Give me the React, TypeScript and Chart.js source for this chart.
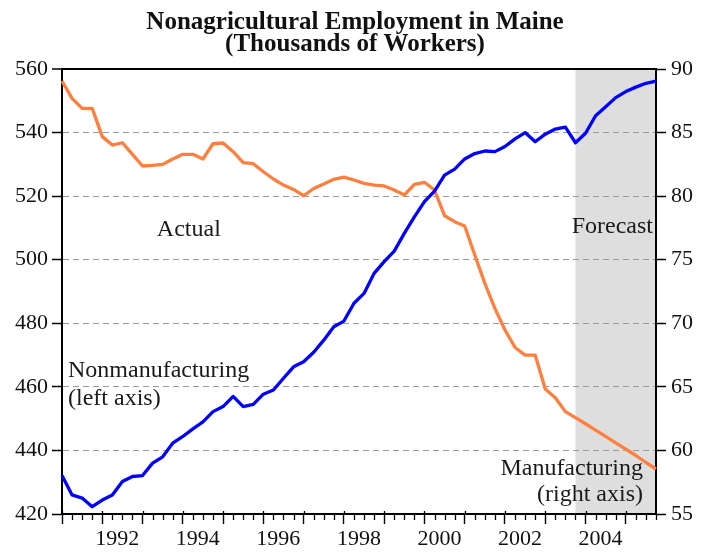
import { useEffect, useRef } from 'react';
import { Chart, registerables } from 'chart.js';

Chart.register(...registerables);

// Quarterly categories, 1991Q1 .. 2005Q4
const quarters = [
  '1991Q1','1991Q2','1991Q3','1991Q4','1992Q1','1992Q2','1992Q3','1992Q4',
  '1993Q1','1993Q2','1993Q3','1993Q4','1994Q1','1994Q2','1994Q3','1994Q4',
  '1995Q1','1995Q2','1995Q3','1995Q4','1996Q1','1996Q2','1996Q3','1996Q4',
  '1997Q1','1997Q2','1997Q3','1997Q4','1998Q1','1998Q2','1998Q3','1998Q4',
  '1999Q1','1999Q2','1999Q3','1999Q4','2000Q1','2000Q2','2000Q3','2000Q4',
  '2001Q1','2001Q2','2001Q3','2001Q4','2002Q1','2002Q2','2002Q3','2002Q4',
  '2003Q1','2003Q2','2003Q3','2003Q4','2004Q1','2004Q2','2004Q3','2004Q4',
  '2005Q1','2005Q2','2005Q3','2005Q4',
];

// Nonmanufacturing employment (left axis, thousands)
const nonmanufacturing = [
  432.1, 426.0, 425.0, 422.3, 424.4, 426.0, 430.2, 431.8,
  432.1, 436.0, 438.0, 442.3, 444.4, 446.8, 449.0, 452.2,
  453.8, 457.0, 453.8, 454.5, 457.7, 459.0, 462.7, 466.3,
  467.9, 470.9, 474.7, 478.9, 480.7, 486.3, 489.4, 495.7,
  499.4, 502.7, 508.3, 513.5, 518.3, 521.6, 526.6, 528.5,
  531.7, 533.4, 534.2, 534.0, 535.6, 538.0, 540.0, 537.1,
  539.5, 541.1, 541.7, 536.8, 539.8, 545.3, 548.1, 551.0,
  552.9, 554.3, 555.5, 556.2,
];

// Manufacturing employment (right axis, thousands)
const manufacturing = [
  89.06, 87.69, 86.9, 86.9, 84.68, 84.02, 84.2, 83.29,
  82.37, 82.42, 82.5, 82.92, 83.29, 83.29, 82.92, 84.12,
  84.18, 83.5, 82.63, 82.55, 81.92, 81.35, 80.87, 80.53,
  80.03, 80.6, 80.95, 81.32, 81.5, 81.27, 81.0, 80.87,
  80.8, 80.48, 80.09, 80.93, 81.09, 80.48, 78.46, 77.99,
  77.65, 75.37, 73.14, 71.17, 69.47, 68.1, 67.5, 67.5,
  64.83, 64.15, 63.05, 62.58, 62.1, 61.6, 61.1, 60.6,
  60.1, 59.6, 59.05, 58.54,
];

const yearLabels = ['1992', '1994', '1996', '1998', '2000', '2002', '2004'];
const leftRange = [420, 560];
const rightRange = [55, 90];
const forecastStart = '2003Q4';
const titleLines = ['Nonagricultural Employment in Maine', '(Thousands of Workers)'];

const SERIF = '"Liberation Serif", "Times New Roman", serif';
const BLUE = '#0000ff';
const ORANGE = '#ff7f3f';

const isYearStart = (i: number) => quarters[i] !== undefined && quarters[i].endsWith('Q1');

export default function App() {
  const canvasRef = useRef<HTMLCanvasElement | null>(null);

  useEffect(() => {
    const canvas = canvasRef.current;
    if (!canvas) return;

    const backgroundPlugin = {
      id: 'forecastShade',
      beforeDraw(chart: any) {
        const { ctx, chartArea, scales } = chart;
        const x0 = scales.x.getPixelForValue(quarters.indexOf(forecastStart));
        ctx.save();
        ctx.fillStyle = '#dedede';
        ctx.fillRect(x0, chartArea.top, chartArea.right - x0, chartArea.bottom - chartArea.top);
        ctx.restore();
      },
    };

    // quarterly minor tick marks, positioned by the x scale
    const minorTickPlugin = {
      id: 'minorTicks',
      afterDraw(chart: any) {
        const { ctx, chartArea, scales } = chart;
        const xs = scales.x;
        const b = chartArea.bottom;
        ctx.save();
        ctx.strokeStyle = '#000';
        ctx.lineWidth = 1.3;
        ctx.beginPath();
        quarters.forEach((_q, i) => {
          const px = Math.round(xs.getPixelForValue(i)) + 0.5;
          if (isYearStart(i)) {
            ctx.moveTo(px, b - 3);
            ctx.lineTo(px, b);
          } else {
            ctx.moveTo(px, b);
            ctx.lineTo(px, b + 6);
          }
        });
        ctx.stroke();
        ctx.restore();
      },
    };

    const textPlugin = {
      id: 'annotations',
      afterDatasetsDraw(chart: any) {
        const { ctx, chartArea, scales } = chart;
        const y = scales.y;
        const x = scales.x;
        ctx.save();
        ctx.fillStyle = '#1a1a1a';
        ctx.font = `24px ${SERIF}`;
        ctx.textBaseline = 'alphabetic';
        ctx.textAlign = 'center';
        ctx.fillText('Actual', x.getPixelForValue(12.6), y.getPixelForValue(507.5));
        ctx.textAlign = 'right';
        ctx.fillText('Forecast', chartArea.right - 3, y.getPixelForValue(508.4));
        ctx.textAlign = 'left';
        ctx.fillText('Nonmanufacturing', chartArea.left + 6, y.getPixelForValue(463.0));
        ctx.fillText('(left axis)', chartArea.left + 6, y.getPixelForValue(454.3));
        ctx.textAlign = 'right';
        ctx.fillText('Manufacturing', chartArea.right - 13, y.getPixelForValue(432.3));
        ctx.fillText('(right axis)', chartArea.right - 13, y.getPixelForValue(424.2));
        ctx.restore();
      },
    };

    const chart = new Chart(canvas, {
      type: 'line',
      data: {
        labels: quarters,
        datasets: [
          {
            label: 'Nonmanufacturing',
            data: nonmanufacturing,
            borderColor: BLUE,
            borderWidth: 3.3,
            pointRadius: 0,
            tension: 0,
            borderJoinStyle: 'round',
            xAxisID: 'x',
            yAxisID: 'y',
          },
          {
            label: 'Manufacturing',
            data: manufacturing,
            borderColor: ORANGE,
            borderWidth: 3.3,
            pointRadius: 0,
            tension: 0,
            borderJoinStyle: 'round',
            xAxisID: 'x',
            yAxisID: 'y1',
          },
        ],
      },
      options: {
        responsive: true,
        maintainAspectRatio: false,
        animation: false,
        layout: { padding: 0 },
        plugins: {
          legend: { display: false },
          tooltip: { enabled: false },
          title: {
            display: true,
            text: titleLines,
            color: '#111',
            font: { family: SERIF, size: 25, weight: 'bold', lineHeight: 0.88 },
            padding: { top: 12, bottom: 13 },
          },
        },
        scales: {
          x: {
            type: 'category',
            position: 'bottom',
            grid: {
              drawOnChartArea: false,
              drawTicks: true,
              tickLength: 10,
              tickColor: (c: any) => (isYearStart(c.index) ? '#000' : 'rgba(0,0,0,0)'),
              tickWidth: 1.4,
            },
            border: { display: true, color: '#000', width: 2 },
            ticks: {
              autoSkip: false,
              maxRotation: 0,
              minRotation: 0,
              labelOffset: 15,
              padding: 2,
              color: '#111',
              font: { family: SERIF, size: 22 },
              callback: (_v: any, i: number) => {
                if (!isYearStart(i)) return '';
                const yr = quarters[i].slice(0, 4);
                return yearLabels.includes(yr) ? yr : '';
              },
            },
            afterFit: (s: any) => { s.height = 38; },
          },
          y: {
            position: 'left',
            min: leftRange[0],
            max: leftRange[1],
            ticks: {
              stepSize: 20,
              padding: 4,
              color: '#111',
              font: { family: SERIF, size: 22 },
            },
            grid: {
              drawOnChartArea: true,
              color: (c: any) => {
                const v = c.tick ? c.tick.value : null;
                if (v === leftRange[1]) return '#000';
                if (v === leftRange[0]) return 'rgba(0,0,0,0)';
                return '#9a9a9a';
              },
              lineWidth: (c: any) => (c.tick && c.tick.value === leftRange[1] ? 2 : 1),
              tickLength: 10,
              tickColor: '#000',
              tickWidth: 1.5,
              tickBorderDash: [],
            },
            border: {
              display: true,
              color: '#000',
              width: 2,
              dash: (c: any) => (c.tick && c.tick.value === leftRange[1] ? [] : [6, 4]),
            },
            afterFit: (s: any) => { s.width = 62; },
          },
          y1: {
            position: 'right',
            min: rightRange[0],
            max: rightRange[1],
            ticks: {
              stepSize: 5,
              padding: 5,
              color: '#111',
              font: { family: SERIF, size: 22 },
            },
            grid: {
              drawOnChartArea: false,
              tickLength: 10,
              tickColor: '#000',
              tickWidth: 1.5,
            },
            border: { display: true, color: '#000', width: 2 },
            afterFit: (s: any) => { s.width = 54; },
          },
        },
      } as any,
      plugins: [backgroundPlugin, textPlugin, minorTickPlugin],
    });

    return () => {
      chart.destroy();
    };
  }, []);

  return (
    <div style={{ position: 'absolute', left: 0, top: 0, width: 710, height: 552, background: '#fff' }}>
      <canvas ref={canvasRef} />
    </div>
  );
}
